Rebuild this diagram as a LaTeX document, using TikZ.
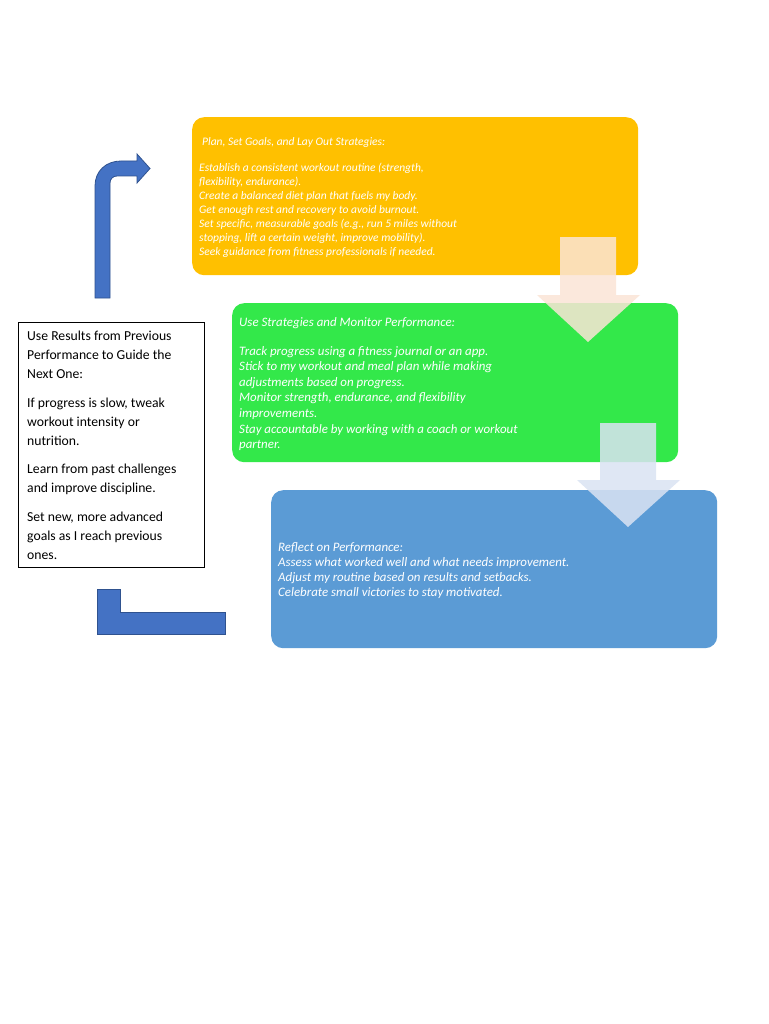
\documentclass[tikz,border=0pt]{standalone}
\usepackage{fontspec}
\setmainfont{Carlito}
\definecolor{yel}{HTML}{FFC000}
\definecolor{grn}{HTML}{33E84A}
\definecolor{blu}{HTML}{5B9BD5}
\definecolor{arrblue}{HTML}{4472C4}
\definecolor{arredge}{HTML}{2F528F}
\definecolor{peach}{HTML}{FBE5D6}
\definecolor{pale}{HTML}{DAE3F3}
\tikzset{
  stagebox/.style={rectangle, rounded corners=12pt, draw=none, anchor=north west, inner sep=0pt},
  stagetext/.style={anchor=north west, inner sep=0pt, align=left, text=white},
  downarrow/.style={fill opacity=0.85, draw=none},
  bluearrow/.style={fill=arrblue, draw=arredge, line width=0.8pt, line join=miter},
  notebox/.style={rectangle, draw=black, line width=0.6pt, anchor=north west, inner sep=0pt, fill=white}
}
\begin{document}
\begin{tikzpicture}[x=1pt,y=-1pt]
\useasboundingbox (0,0) rectangle (768,1024);
\fill[white] (0,0) rectangle (768,1024);

% stage boxes
\node[stagebox, fill=yel, minimum width=446pt, minimum height=158pt] (plan) at (192,117) {};
\node[stagebox, fill=grn, minimum width=446pt, minimum height=159pt] (use) at (232,303) {};
\node[stagebox, fill=blu, minimum width=446pt, minimum height=158pt] (reflect) at (271,490) {};

% stage texts
\node[stagetext, font=\fontsize{11.5}{14}\selectfont\itshape] (plantext) at (199,137) {%
\hspace{3pt}Plan, Set Goals, and Lay Out Strategies:\\[12pt]
Establish a consistent workout routine (strength,\\
flexibility, endurance).\\
Create a balanced diet plan that fuels my body.\\
Get enough rest and recovery to avoid burnout.\\
Set specific, measurable goals (e.g., run 5 miles without\\
stopping, lift a certain weight, improve mobility).\\
Seek guidance from fitness professionals if needed.};

\node[stagetext, font=\fontsize{12.9}{15.6}\selectfont\itshape] (usetext) at (239,317) {%
Use Strategies and Monitor Performance:\\[13.4pt]
Track progress using a fitness journal or an app.\\
Stick to my workout and meal plan while making\\
adjustments based on progress.\\
Monitor strength, endurance, and flexibility\\
improvements.\\
Stay accountable by working with a coach or workout\\
partner.};

\node[stagetext, font=\fontsize{12.9}{15.3}\selectfont\itshape] (reflecttext) at (278,542) {%
Reflect on Performance:\\
Assess what worked well and what needs improvement.\\
Adjust my routine based on results and setbacks.\\
Celebrate small victories to stay motivated.};

% translucent down arrows
\coordinate (d1) at (588,342);
\coordinate (d2) at (628,527);
\fill[downarrow, fill=peach] (560,237) -- (616,237) -- (616,295) -- (640,295) -- (d1) -- (537,295) -- (560,295) -- cycle;
\fill[downarrow, fill=pale] (600,423) -- (656,423) -- (656,480) -- (680,480) -- (d2) -- (577,480) -- (600,480) -- cycle;

% note box
\node[notebox, minimum width=186pt, minimum height=245pt] (note) at (18,322) {};
\node[anchor=north west, inner sep=0pt, align=left, font=\fontsize{13.7}{19}\selectfont] (notetext) at (27,331) {%
Use Results from Previous\\
Performance to Guide the\\
Next One:\\[9.5pt]
If progress is slow, tweak\\
workout intensity or\\
nutrition.\\[9.5pt]
Learn from past challenges\\
and improve discipline.\\[9.5pt]
Set new, more advanced\\
goals as I reach previous\\
ones.};

% bent up arrow
\coordinate (uptip) at (150,168.5);
\draw[bluearrow] (95,298) -- (95,186) .. controls (95,171) and (106,161) .. (121,161)
  -- (137,161) -- (137,154) -- (uptip) -- (137,183) -- (137,176) -- (117,176)
  .. controls (113,176) and (110,179) .. (110,183) -- (110,298) -- cycle;

% L shape
\draw[bluearrow] (97,589) -- (120,589) -- (120,612) -- (225,612) -- (225,634) -- (97,634) -- cycle;
\end{tikzpicture}
\end{document}
